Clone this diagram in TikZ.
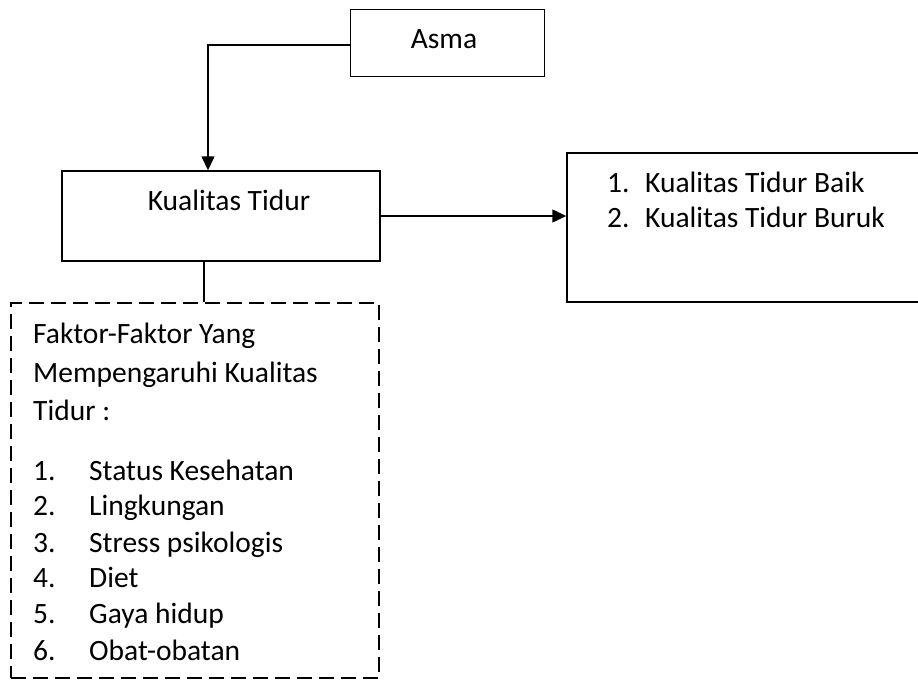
\documentclass[tikz,border=0pt]{standalone}
\usepackage{fontspec}
\setmainfont{Carlito}
\usetikzlibrary{arrows.meta}
\begin{document}
\begin{tikzpicture}[x=1pt,y=-1pt,
  box/.style={draw, line width=1.4pt, inner sep=0pt},
  dbox/.style={box, dash pattern=on 15pt off 7pt},
  txt/.style={font=\fontsize{29.5}{35}\selectfont, inner sep=0pt, anchor=base west},
  conn/.style={line width=1.4pt},
  arr/.style={conn, -{Triangle[length=14pt,width=13pt]}}]
\useasboundingbox (0,0) rectangle (918,680);
\begin{scope}
\clip (0,0) rectangle (918,680);
% boxes
\node[box, minimum width=194pt, minimum height=67pt] (asma) at (447.5,43) {};
\node[box, minimum width=318pt, minimum height=90pt] (kt) at (221,216) {};
\node[box, minimum width=360pt, minimum height=149pt] (res) at (747,227.5) {};
\node[dbox, minimum width=368pt, minimum height=375pt] (fak) at (195,490.5) {};
\end{scope}
% texts
\node[txt, anchor=base] (asmat) at (444,48) {Asma};
\node[txt, anchor=base] (ktt) at (229,210) {Kualitas Tidur};
\node[txt] (r1n) at (607,192) {1.};
\node[txt] (r1) at (645,192) {Kualitas Tidur Baik};
\node[txt] (r2n) at (607,227) {2.};
\node[txt] (r2) at (645,227) {Kualitas Tidur Buruk};
\node[txt] (f1) at (33,343) {Faktor-Faktor Yang};
\node[txt] (f2) at (33,382) {Mempengaruhi Kualitas};
\node[txt] (f3) at (33,420) {Tidur :};
\node[txt] (n1) at (33,480) {1.};
\node[txt] (i1) at (89,480) {Status Kesehatan};
\node[txt] (n2) at (33,515) {2.};
\node[txt] (i2) at (89,515) {Lingkungan};
\node[txt] (n3) at (33,552) {3.};
\node[txt] (i3) at (89,552) {Stress psikologis};
\node[txt] (n4) at (33,587) {4.};
\node[txt] (i4) at (89,587) {Diet};
\node[txt] (n5) at (33,623) {5.};
\node[txt] (i5) at (89,623) {Gaya hidup};
\node[txt] (n6) at (33,660) {6.};
\node[txt] (i6) at (89,660) {Obat-obatan};
% connectors
\draw[arr] ([yshift=-2pt]asma.west) -| ([xshift=-13pt]kt.north);
\draw[arr] (kt.east) -- (kt.east -| res.west);
\draw[conn] ([xshift=-17pt]kt.south) -- ([xshift=-17pt]kt.south |- fak.north);
\end{tikzpicture}
\end{document}
